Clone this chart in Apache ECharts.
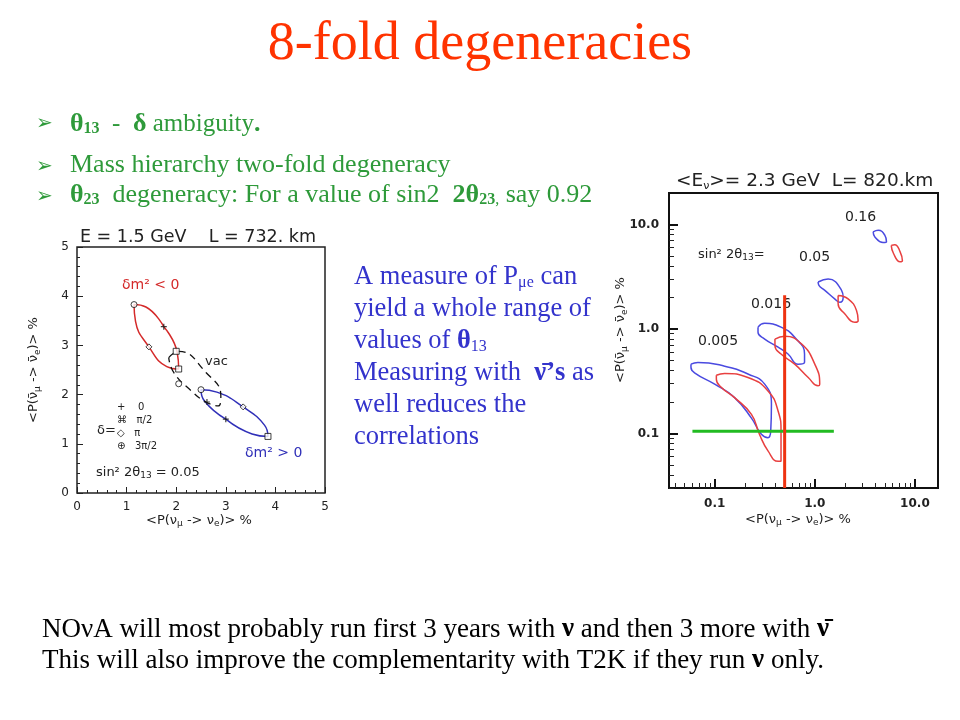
<!DOCTYPE html>
<html><head><meta charset="utf-8">
<script src="https://cdn.jsdelivr.net/npm/echarts@6/dist/echarts.min.js"></script>
<style>html,body{margin:0;background:#fff}#c{width:960px;height:720px}</style>
</head><body><div id="c"></div>
<script>
// ---- left plot (E=1.5 GeV, L=732 km), linear axes 0..5 ----
const leftTicks = [0,1,2,3,4,5];
const redEllipse = [[1.75,3.38],[2.02,2.86],[2.05,2.52],[1.81,2.57],[1.45,2.97],[1.18,3.49],[1.15,3.83],[1.39,3.78],[1.75,3.38]];
const blueEllipse = [[3.0,1.5],[3.53,1.20],[3.85,1.15],[3.78,1.38],[3.35,1.75],[2.82,2.05],[2.5,2.1],[2.57,1.87],[3.0,1.5]];
const vacEllipse = [[1.85,2.75],[2.05,2.88],[2.6,2.45],[2.9,1.97],[2.85,1.77],[2.6,1.85],[2.3,2.08],[1.95,2.45],[1.85,2.75]];
const delta0 = [[1.75,3.38],[3.0,1.5],[2.62,1.85]];
const deltaPi2 = [[2.05,2.52],[3.85,1.15],[2.0,2.88]];
const deltaPi = [[1.45,2.97],[3.35,1.75]];
const delta3Pi2 = [[1.15,3.83],[2.5,2.1],[2.05,2.22]];
// ---- right plot (E=2.3 GeV, L=820 km), log axes ----
const blue005 = [[0.058,0.46],[0.068,0.478],[0.126,0.44],[0.215,0.37],[0.316,0.296],[0.369,0.19],[0.363,0.105],[0.341,0.091],[0.293,0.098],[0.233,0.14],[0.158,0.22],[0.1,0.296],[0.063,0.38],[0.058,0.43],[0.058,0.46]];
const red005 = [[0.104,0.36],[0.126,0.375],[0.215,0.343],[0.341,0.255],[0.43,0.164],[0.46,0.105],[0.46,0.054],[0.43,0.054],[0.341,0.068],[0.28,0.098],[0.233,0.152],[0.158,0.22],[0.117,0.275],[0.104,0.33],[0.104,0.36]];
const blue016 = [[0.271,1.04],[0.316,1.13],[0.46,1.04],[0.63,0.83],[0.79,0.575],[0.79,0.48],[0.68,0.46],[0.54,0.575],[0.43,0.67],[0.316,0.8],[0.271,0.93],[0.271,1.04]];
const red016 = [[0.4,0.8],[0.5,0.85],[0.735,0.72],[1.0,0.46],[1.12,0.296],[1.08,0.285],[0.86,0.343],[0.63,0.46],[0.46,0.575],[0.4,0.69],[0.4,0.8]];
const blue05 = [[1.08,2.81],[1.36,3.0],[1.85,2.34],[1.92,2.01],[1.78,1.8],[1.58,1.94],[1.26,2.34],[1.1,2.61],[1.08,2.81]];
const red05 = [[1.71,2.09],[2.15,1.94],[2.61,1.5],[2.71,1.2],[2.51,1.16],[2.0,1.39],[1.71,1.74],[1.71,2.09]];
const blue16 = [[3.83,8.5],[4.3,8.8],[5.0,7.9],[5.2,6.8],[4.8,6.7],[3.98,7.6],[3.83,8.5]];
const red16 = [[5.8,6.3],[6.3,6.4],[7.1,5.5],[7.5,4.5],[7.1,4.4],[6.1,5.3],[5.8,6.3]];
const greenLine = [[0.06,0.105],[1.55,0.105]];
const redLine = [[0.5,0.03],[0.5,2.1]];
const rightTickLabels = [0.1,1.0,10.0];

const chart = echarts.init(document.getElementById('c'));
const plotFont = 'DejaVu Sans';
const serif = 'Liberation Serif';
const GREEN = '#2E9A3A', BLUE = '#3333CC', TITLE = '#FF3300';

function linAxis(gi){
  return {type:'value', gridIndex:gi, min:leftTicks[0], max:leftTicks[leftTicks.length-1], interval:1,
    axisLine:{show:false}, splitLine:{show:false},
    axisTick:{inside:true,length:6,lineStyle:{color:'#222'}},
    minorTick:{show:true,splitNumber:5,length:3,lineStyle:{color:'#222'}},
    axisLabel:{fontFamily:plotFont,fontSize:12,color:'#222'}};
}
function logAxis(gi,min,max){
  return {type:'log', logBase:10, gridIndex:gi, min:min, max:max,
    axisLine:{show:false}, splitLine:{show:false},
    axisTick:{inside:true,length:9,lineStyle:{color:'#111',width:2}},
    minorTick:{show:true,splitNumber:9,length:5,lineStyle:{color:'#222'}},
    axisLabel:{fontFamily:plotFont,fontSize:12,color:'#222',fontWeight:'bold',margin:10,
      formatter:v=> rightTickLabels.indexOf(+v)>=0 ? (+v).toFixed(1) : ''}};
}
function line(xi,data,color,extra){
  return Object.assign({type:'line',xAxisIndex:xi,yAxisIndex:xi,data:data,smooth:0.5,symbol:'none',
    lineStyle:{color:color,width:1.5},silent:true,z:3},extra||{});
}
function marks(data,symbol){
  return {type:'scatter',xAxisIndex:0,yAxisIndex:0,data:data,symbol:symbol,symbolSize:6,
    itemStyle:{color:'#fff',borderColor:'#111',borderWidth:1},z:5,silent:true};
}
const plus='path://M4,0H6V4H10V6H6V10H4V6H0V4H4Z';
const pr = {n:{fontFamily:plotFont,fontSize:13,fill:'#222'},s:{fontFamily:plotFont,fontSize:9,fill:'#222',padding:[7,0,0,0]}};

chart.setOption({
  animation:false,
  grid:[{left:77,top:247,width:248,height:246,show:true,borderColor:'#222',borderWidth:1.5,backgroundColor:'#fff'},
        {left:669,top:193,width:269,height:295,show:true,borderColor:'#111',borderWidth:2,backgroundColor:'#fff'}],
  xAxis:[linAxis(0), logAxis(1,0.035,17)],
  yAxis:[linAxis(0), logAxis(1,0.03,20)],
  series:[
    line(0,redEllipse,'#D42A2A'),
    line(0,blueEllipse,'#3030B8'),
    line(0,vacEllipse,'#111',{lineStyle:{color:'#111',width:1.3,type:[7,5]}}),
    Object.assign(marks(delta0,plus),{itemStyle:{color:'#111'}}),
    marks(deltaPi2,'rect'),
    marks(deltaPi,'diamond'),
    marks(delta3Pi2,'circle'),
    line(1,blue005,'#4A4AE0'), line(1,red005,'#E84040'),
    line(1,blue016,'#4A4AE0'), line(1,red016,'#E84040'),
    line(1,blue05,'#4A4AE0'), line(1,red05,'#E84040'),
    line(1,blue16,'#4A4AE0'), line(1,red16,'#E84040'),
    line(1,greenLine,'#22BB22',{smooth:false,lineStyle:{color:'#22BB22',width:3},z:6}),
    line(1,redLine,'#EE3311',{smooth:false,lineStyle:{color:'#EE3311',width:3},z:7})
  ],
  graphic:[
    {type:'text',left:'center',top:18,style:{text:'8-fold degeneracies',font:'54px '+serif,fill:TITLE}},
    {type:'text',left:36,top:114,style:{text:'➢',font:'20px DejaVu Sans',fill:GREEN}},
    {type:'text',left:70,top:111,style:{rich:{a:{fontFamily:serif,fontSize:25,fill:GREEN},s:{fontFamily:serif,fontSize:16,fontWeight:'bold',fill:GREEN,padding:[10,0,0,0]},b:{fontFamily:serif,fontSize:26,fontWeight:'bold',fill:GREEN}},
      text:'{b|θ}{s|13}{a|  -  }{b|δ}{a| ambiguity}{b|.}'}},
    {type:'text',left:36,top:157,style:{text:'➢',font:'20px DejaVu Sans',fill:GREEN}},
    {type:'text',left:70,top:152,style:{text:'Mass hierarchy two-fold degeneracy',font:'26px '+serif,fill:GREEN}},
    {type:'text',left:36,top:187,style:{text:'➢',font:'20px DejaVu Sans',fill:GREEN}},
    {type:'text',left:70,top:182,style:{rich:{a:{fontFamily:serif,fontSize:26,fill:GREEN},s:{fontFamily:serif,fontSize:16,fontWeight:'bold',fill:GREEN,padding:[10,0,0,0]},b:{fontFamily:serif,fontSize:26,fontWeight:'bold',fill:GREEN},s2:{fontFamily:serif,fontSize:16,fill:GREEN,padding:[10,0,0,0]}},
      text:'{b|θ}{s|23}{a|  degeneracy: For a value of sin2  }{b|2θ}{s|23}{s2|,}{a| say 0.92}'}},
    // middle blue text
    {type:'text',left:354,top:264,style:{rich:{a:{fontFamily:serif,fontSize:26.5,fill:BLUE,lineHeight:32},s:{fontFamily:serif,fontSize:16,fill:BLUE,padding:[10,0,0,0]},b:{fontFamily:serif,fontSize:26.5,fontWeight:'bold',fill:BLUE},sb:{fontFamily:serif,fontSize:16,fill:BLUE,padding:[10,0,0,0]}},
      text:'{a|A measure of P}{s|μe}{a| can}\n{a|yield a whole range of}\n{a|values of }{b|θ}{sb|13}\n{a|Measuring with  }{b|ν̄’s}{a| as}\n{a|well reduces the}\n{a|correlations}'}},
    // bottom text
    {type:'text',left:42,top:616,style:{rich:{a:{fontFamily:serif,fontSize:27,fill:'#000',lineHeight:31},b:{fontFamily:serif,fontSize:27,fontWeight:'bold',fill:'#000',lineHeight:31}},
      text:'{a|NOνA will most probably run first 3 years with }{b|ν}{a| and then 3 more with }{b|ν̄}\n{a|This will also improve the complementarity with T2K if they run }{b|ν}{a| only.}'}},
    // left plot texts
    {type:'text',left:80,top:228,style:{text:'E = 1.5 GeV    L = 732. km',font:'17.5px '+plotFont,fill:'#222'}},
    {type:'text',left:122,top:278,style:{text:'δm² < 0',font:'14px '+plotFont,fill:'#D42A2A'}},
    {type:'text',left:205,top:355,style:{text:'vac',font:'13px '+plotFont,fill:'#222'}},
    {type:'text',left:245,top:446,style:{text:'δm² > 0',font:'14px '+plotFont,fill:'#3030B8'}},
    {type:'text',left:117,top:401,style:{text:'+    0\n⌘   π/2\n◇   π\n⊕   3π/2',font:'10px '+plotFont,fill:'#222',lineHeight:13}},
    {type:'text',left:97,top:424,style:{text:'δ=',font:'13px '+plotFont,fill:'#222'}},
    {type:'text',left:96,top:466,style:{rich:pr,text:'{n|sin² 2θ}{s|13}{n| = 0.05}'}},
    {type:'text',left:146,top:514,style:{rich:pr,text:'{n|<P(ν}{s|μ}{n| -> ν}{s|e}{n|)> %}'}},
    {type:'text',x:34,y:370,rotation:Math.PI/2,style:{rich:pr,align:'center',verticalAlign:'middle',text:'{n|<P(ν̄}{s|μ}{n| -> ν̄}{s|e}{n|)> %}'}},
    // right plot texts
    {type:'text',left:676,top:172,style:{rich:{n:{fontFamily:plotFont,fontSize:18.5,fill:'#222'},s:{fontFamily:plotFont,fontSize:11,fill:'#222',padding:[9,0,0,0]}},text:'{n|<E}{s|ν}{n|>= 2.3 GeV  L= 820.km}'}},
    {type:'text',left:845,top:210,style:{text:'0.16',font:'14px '+plotFont,fill:'#222'}},
    {type:'text',left:698,top:248,style:{rich:pr,text:'{n|sin² 2θ}{s|13}{n|=}'}},
    {type:'text',left:799,top:250,style:{text:'0.05',font:'14px '+plotFont,fill:'#222'}},
    {type:'text',left:751,top:297,style:{text:'0.016',font:'14px '+plotFont,fill:'#222'}},
    {type:'text',left:698,top:334,style:{text:'0.005',font:'14px '+plotFont,fill:'#222'}},
    {type:'text',left:745,top:513,style:{rich:pr,text:'{n|<P(ν}{s|μ}{n| -> ν}{s|e}{n|)> %}'}},
    {type:'text',x:621,y:330,rotation:Math.PI/2,style:{rich:pr,align:'center',verticalAlign:'middle',text:'{n|<P(ν̄}{s|μ}{n| -> ν̄}{s|e}{n|)> %}'}}
  ]
});
</script></body></html>
